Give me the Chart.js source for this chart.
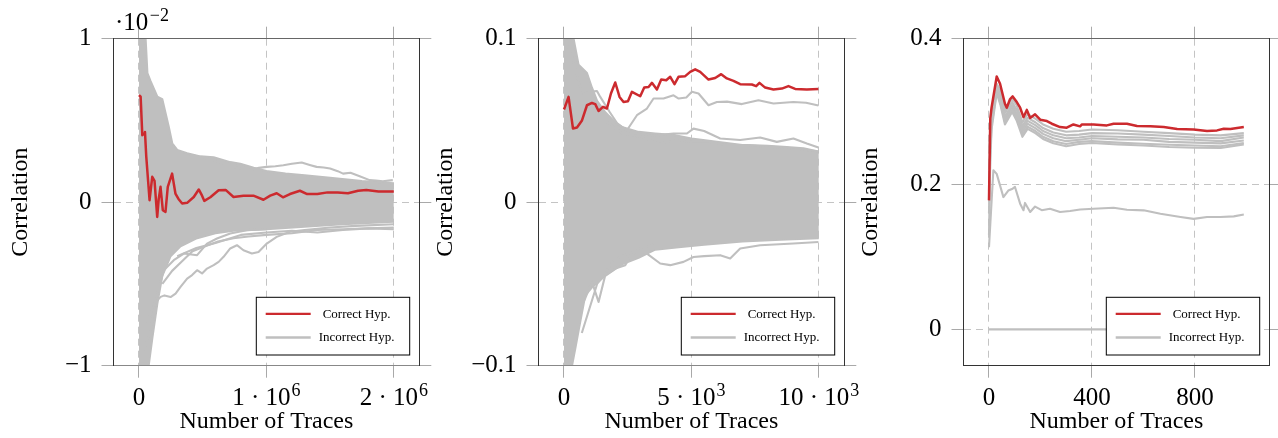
<!DOCTYPE html>
<html>
<head>
<meta charset="utf-8">
<script src="https://cdn.jsdelivr.net/npm/chart.js@4.4.1/dist/chart.umd.min.js"></script>
<style>
  body { margin: 0; background: #fff; }
  #wrap { position: relative; width: 1278px; height: 438px; overflow: hidden; background: #fff; }
  canvas { position: absolute; top: 0; }
</style>
</head>
<body>
<div id="wrap">
  <canvas id="c1" width="440" height="438" style="left:0px"></canvas>
  <canvas id="c2" width="440" height="438" style="left:425px"></canvas>
  <canvas id="c3" width="428" height="438" style="left:850px"></canvas>
</div>
<script>
// texts
const titleX = 'Number of Traces';
const titleY = 'Correlation';
const legendLabels = ['Correct Hyp.', 'Incorrect Hyp.'];

// panel 1 (values in units of 10^-2)
const p1XTicks = [0, 1000000, 2000000];
const p1XTickLabels = ['0', '1 · 10^6', '2 · 10^6'];
const p1YTicks = [-1, 0, 1];
const p1YTickLabels = ['−1', '0', '1'];
const p1Correct = [[0,0.655],[13000,0.645],[26000,0.41],[40000,0.42],[47000,0.43],[57000,0.28],[83000,0.012],[104000,0.155],[122000,0.13],[143000,-0.09],[155000,0.02],[169000,0.094],[187000,-0.049],[208000,-0.059],[226000,0.094],[260000,0.175],[286000,0.053],[310000,0.02],[339000,-0.008],[378000,-0.004],[430000,0.032],[469000,0.078],[495000,0.04],[513000,0.008],[560000,0.03],[625000,0.073],[680000,0.075],[742000,0.032],[820000,0.04],[898000,0.04],[977000,0.015],[1030000,0.04],[1081000,0.055],[1130000,0.03],[1185000,0.05],[1263000,0.07],[1320000,0.05],[1400000,0.05],[1480000,0.06],[1560000,0.06],[1640000,0.055],[1720000,0.07],[1784000,0.075],[1880000,0.065],[2000000,0.065]];
const p1BandTop = [[0,1],[52000,1],[66000,0.79],[91000,0.74],[144000,0.645],[183000,0.63],[234000,0.46],[261000,0.36],[300000,0.32],[378000,0.30],[482000,0.28],[586000,0.275],[716000,0.245],[795000,0.235],[900000,0.21],[1000000,0.19],[1150000,0.175],[1300000,0.165],[1500000,0.15],[1750000,0.13],[2000000,0.115]];
const p1BandBottom = [[0,-1],[76000,-1],[105000,-0.83],[144000,-0.62],[183000,-0.45],[248000,-0.33],[326000,-0.27],[456000,-0.22],[600000,-0.19],[742000,-0.175],[1000000,-0.165],[1300000,-0.15],[1600000,-0.135],[2000000,-0.12]];
const p1GreyA = [[400000,0.29],[550000,0.265],[700000,0.225],[800000,0.205],[873000,0.196],[940000,0.21],[1003000,0.216],[1070000,0.22],[1133000,0.226],[1200000,0.235],[1277000,0.243],[1340000,0.228],[1394000,0.216],[1450000,0.212],[1500000,0.206],[1560000,0.19],[1602000,0.175],[1660000,0.18],[1732000,0.159],[1810000,0.135],[1860000,0.132],[1914000,0.128],[1992000,0.135]];
const p1GreyB = [[60000,-0.75],[120000,-0.62],[170000,-0.579],[200000,-0.57],[248000,-0.58],[287000,-0.559],[326000,-0.518],[378000,-0.467],[417000,-0.446],[456000,-0.416],[495000,-0.436],[534000,-0.406],[586000,-0.385],[625000,-0.365],[664000,-0.334],[716000,-0.283],[769000,-0.263],[820000,-0.294],[886000,-0.314],[938000,-0.304],[1003000,-0.253],[1081000,-0.212],[1185000,-0.181],[1300000,-0.17],[1500000,-0.155],[1700000,-0.145],[2000000,-0.135]];
const p1GreyC = [[39000,-0.905],[91000,-0.783],[143000,-0.559],[195000,-0.416],[273000,-0.355],[352000,-0.314],[456000,-0.324],[534000,-0.253],[612000,-0.222],[716000,-0.191],[847000,-0.171],[1000000,-0.165]];
const p1GreyD = [[183000,-0.5],[260000,-0.42],[340000,-0.36],[420000,-0.30],[520000,-0.27],[620000,-0.24],[742000,-0.22],[860000,-0.21],[1000000,-0.2],[1200000,-0.19],[1400000,-0.17],[1600000,-0.165],[1800000,-0.16],[2000000,-0.155]];
const p1GreyE = [[300000,-0.33],[450000,-0.28],[600000,-0.25],[800000,-0.2],[1000000,-0.185],[1200000,-0.175],[1400000,-0.185],[1600000,-0.17],[1800000,-0.16],[2000000,-0.165]];

// panel 2
const p2XTicks = [0, 5000, 10000];
const p2XTickLabels = ['0', '5 · 10^3', '10 · 10^3'];
const p2YTicks = [-0.1, 0, 0.1];
const p2YTickLabels = ['−0.1', '0', '0.1'];
const p2Correct = [[0,0.0567],[180,0.0644],[353,0.0451],[510,0.0457],[706,0.050],[902,0.0593],[1098,0.0607],[1227,0.060],[1357,0.0558],[1529,0.0583],[1686,0.0573],[1843,0.0665],[2012,0.0732],[2180,0.0644],[2337,0.0613],[2510,0.0618],[2667,0.0675],[2992,0.0648],[3149,0.0701],[3318,0.0705],[3451,0.073],[3647,0.0689],[3816,0.075],[4012,0.0746],[4169,0.0767],[4337,0.0722],[4494,0.0767],[4757,0.0771],[4953,0.0797],[5149,0.0813],[5345,0.0797],[5671,0.075],[5933,0.076],[6169,0.0783],[6392,0.0757],[6651,0.0742],[6914,0.0722],[7373,0.072],[7541,0.071],[7671,0.073],[7894,0.0701],[8220,0.0689],[8549,0.0695],[8808,0.071],[9071,0.0693],[9529,0.0689],[9984,0.0693]];
const p2BandTop = [[0,0.1],[376,0.1],[573,0.084],[902,0.079],[1098,0.07],[1300,0.062],[1620,0.055],[2000,0.049],[2275,0.046],[2926,0.043],[3580,0.042],[4365,0.041],[5000,0.039],[6000,0.037],[7000,0.035],[8000,0.034],[9000,0.033],[10000,0.031]];
const p2BandBottom = [[0,-0.1],[314,-0.1],[443,-0.0895],[639,-0.073],[835,-0.057],[1100,-0.052],[1620,-0.045],[2275,-0.038],[2926,-0.034],[3580,-0.029],[4500,-0.0275],[5500,-0.026],[7000,-0.024],[8500,-0.023],[10000,-0.022]];
const p2GreyA = [[0,0.1],[300,0.09],[600,0.072],[769,0.0665],[965,0.0675],[1294,0.068],[1424,0.0644],[1800,0.055],[2100,0.048],[2471,0.044],[2863,0.0532],[3255,0.0573],[3514,0.0634],[3906,0.0634],[4298,0.0654],[4500,0.0634],[4800,0.064],[5020,0.0675],[5280,0.0665],[5671,0.0593],[6000,0.0613],[6400,0.0615],[6980,0.06],[7632,0.0624],[8220,0.0604],[9000,0.0613],[9500,0.0608],[9984,0.0591]];
const p2GreyB = [[1000,0.06],[1600,0.05],[2300,0.042],[3000,0.04],[3700,0.041],[4300,0.042],[4824,0.042],[5082,0.045],[5500,0.0435],[6130,0.039],[6914,0.038],[7698,0.0396],[8351,0.0369],[9004,0.039],[9529,0.0359],[9984,0.0334]];
const p2GreyC = [[2000,0.045],[3000,0.04],[3776,0.0359],[4400,0.038],[5000,0.037],[5700,0.037],[6392,0.0349],[7200,0.035],[8000,0.0345],[8745,0.0338],[9400,0.033],[9984,0.031]];
const p2GreyD = [[700,-0.08],[1000,-0.065],[1300,-0.05],[1553,-0.045],[1945,-0.0355],[2400,-0.032],[2800,-0.03],[3255,-0.0314],[3776,-0.0375],[4169,-0.0385],[4690,-0.0365],[5082,-0.0335],[5500,-0.033],[6130,-0.0324],[6522,-0.0344],[6914,-0.0283],[7698,-0.0263],[9004,-0.0253],[9984,-0.0243]];
const p2GreyE = [[800,-0.06],[1098,-0.0487],[1357,-0.061],[1620,-0.0446],[2012,-0.0406],[2404,-0.0385],[2533,-0.035],[2926,-0.0283],[3500,-0.026]];

// panel 3
const p3XTicks = [0, 400, 800];
const p3XTickLabels = ['0', '400', '800'];
const p3YTicks = [0, 0.2, 0.4];
const p3YTickLabels = ['0', '0.2', '0.4'];
const p3Correct = [[0,0.1775],[5,0.29],[10,0.305],[30,0.348],[43,0.338],[62,0.3105],[69,0.305],[82,0.317],[92,0.3206],[108,0.3128],[121,0.305],[134,0.292],[147,0.302],[160,0.291],[179,0.296],[199,0.2885],[225,0.2867],[244,0.283],[276,0.2784],[302,0.2775],[328,0.282],[354,0.2794],[361,0.282],[406,0.282],[458,0.2807],[484,0.283],[536,0.283],[575,0.2798],[627,0.2794],[679,0.2784],[731,0.2757],[795,0.2752],[847,0.2729],[886,0.2738],[912,0.2761],[938,0.2757],[990,0.2784]];
const p3GreyX = [0, 5, 10, 30, 45, 62, 90, 108, 130, 150, 180, 210, 250, 300, 350, 400, 500, 600, 700, 800, 900, 990];
const p3Grey1 = [0.28, 0.285, 0.30, 0.338, 0.328, 0.302, 0.318, 0.308, 0.285, 0.296, 0.290, 0.282, 0.276, 0.272, 0.273, 0.275, 0.274, 0.272, 0.270, 0.268, 0.267, 0.270];
const p3Grey2 = [0.25, 0.27, 0.295, 0.335, 0.322, 0.298, 0.313, 0.302, 0.280, 0.291, 0.285, 0.277, 0.271, 0.267, 0.268, 0.270, 0.2695, 0.268, 0.266, 0.264, 0.263, 0.267];
const p3Grey3 = [0.22, 0.26, 0.29, 0.332, 0.318, 0.293, 0.309, 0.297, 0.276, 0.287, 0.281, 0.273, 0.267, 0.263, 0.264, 0.266, 0.265, 0.264, 0.262, 0.261, 0.259, 0.264];
const p3Grey4 = [0.19, 0.25, 0.285, 0.330, 0.315, 0.289, 0.306, 0.294, 0.272, 0.283, 0.277, 0.269, 0.263, 0.259, 0.261, 0.263, 0.2615, 0.261, 0.258, 0.257, 0.256, 0.260];
const p3Grey5 = [0.16, 0.24, 0.28, 0.328, 0.311, 0.285, 0.302, 0.290, 0.268, 0.279, 0.273, 0.265, 0.259, 0.255, 0.258, 0.259, 0.257, 0.2555, 0.254, 0.253, 0.252, 0.2565];
const p3Grey6 = [0.13, 0.23, 0.275, 0.325, 0.308, 0.282, 0.299, 0.287, 0.265, 0.276, 0.270, 0.262, 0.256, 0.252, 0.255, 0.2565, 0.2545, 0.253, 0.251, 0.250, 0.2495, 0.2546];
const p3GreyLow = [[0,0.113],[17,0.219],[30,0.214],[56,0.182],[75,0.191],[92,0.1936],[101,0.196],[121,0.173],[134,0.164],[140,0.174],[160,0.1615],[179,0.169],[205,0.164],[237,0.166],[276,0.1615],[315,0.163],[354,0.165],[406,0.166],[484,0.1674],[536,0.1647],[601,0.1638],[666,0.159],[744,0.1546],[795,0.152],[847,0.1546],[899,0.1546],[951,0.1555],[990,0.158]];
const p3GreyZero = [[0,0],[990,0]];

// styling
const serif = '"Liberation Serif", "Times New Roman", serif';
const RED = '#cc2a2e';
const GREY = '#bfbfbf';
const AREA = { left: 113.5, right: 419.3, top: 38.7, bottom: 365.7 };
Chart.defaults.font.family = serif;

const pts = a => a.map(p => ({ x: p[0], y: p[1] }));
const zipX = (xs, ys) => xs.map((x, i) => [x, ys[i]]);

// legend drawn inside the plot, bottom right
const legendBox = {
  id: 'legendBox',
  afterDraw(chart) {
    const ctx = chart.ctx, a = chart.chartArea;
    const w = 153.4, h = 57.7;
    const l = a.right - 9.6 - w, t = a.bottom - 10.7 - h;
    ctx.save();
    ctx.fillStyle = '#fff';
    ctx.fillRect(l, t, w, h);
    ctx.strokeStyle = '#000';
    ctx.lineWidth = 1;
    ctx.strokeRect(l, t, w, h);
    [[legendLabels[0], RED, 16.6], [legendLabels[1], GREY, 40.2]].forEach(r => {
      ctx.strokeStyle = r[1];
      ctx.lineWidth = 2.4;
      ctx.beginPath();
      ctx.moveTo(l + 9.4, t + r[2]);
      ctx.lineTo(l + 54.4, t + r[2]);
      ctx.stroke();
      ctx.fillStyle = '#000';
      ctx.font = '13px ' + serif;
      ctx.textAlign = 'center';
      ctx.textBaseline = 'middle';
      ctx.fillText(r[0], l + 100.3, t + r[2] + 0.5);
    });
    ctx.restore();
  }
};

// the ·10^-2 multiplier of panel 1
const expLabel = {
  id: 'expLabel',
  afterDraw(chart) {
    const ctx = chart.ctx;
    ctx.save();
    ctx.fillStyle = '#000';
    ctx.textAlign = 'left';
    ctx.textBaseline = 'alphabetic';
    ctx.font = '25px ' + serif;
    ctx.fillText('·10', 115, 29.5);
    const w = ctx.measureText('·10').width;
    ctx.font = '18px ' + serif;
    ctx.fillText('−2', 115 + w + 1.5, 20.5);
    ctx.restore();
  }
};

function makePanel(id, p) {
  const canvas = document.getElementById(id);
  const W = canvas.width, H = canvas.height;
  const setTicks = vals => s => { s.ticks = vals.map(v => ({ value: v })); };
  const gridOpts = { color: '#c4c4c4', lineWidth: 1, tickLength: 12, tickColor: '#a9a9a9', tickWidth: 1, tickBorderDash: [] };

  // x tick labels with real superscripts ("a^b")
  const xTickText = {
    id: 'xTickText',
    afterDraw(chart) {
      const s = chart.scales.x, ctx = chart.ctx;
      const base = s.top + 38.8;
      ctx.save();
      ctx.fillStyle = '#000';
      ctx.textAlign = 'left';
      ctx.textBaseline = 'alphabetic';
      p.xTicks.forEach((v, i) => {
        const parts = p.xTickLabels[i].split('^');
        ctx.font = '25px ' + serif;
        const wb = ctx.measureText(parts[0]).width;
        let ws = 0;
        if (parts[1]) { ctx.font = '18px ' + serif; ws = ctx.measureText(parts[1]).width + 1; }
        const x0 = s.getPixelForValue(v) - (wb + ws) / 2;
        ctx.font = '25px ' + serif;
        ctx.fillText(parts[0], x0, base);
        if (parts[1]) {
          ctx.font = '18px ' + serif;
          ctx.fillText(parts[1], x0 + wb + 1, base - 9);
        }
      });
      ctx.restore();
    }
  };

  const datasets = [{ data: pts(p.correct), borderColor: RED, borderWidth: 2.5 }];
  p.greys.forEach(g => datasets.push({ data: pts(g), borderColor: GREY, borderWidth: 2.1 }));
  if (p.band) {
    datasets.push({ data: pts(p.band[0]), borderColor: GREY, borderWidth: 2.1, backgroundColor: GREY, fill: '+1' });
    datasets.push({ data: pts(p.band[1]), borderColor: GREY, borderWidth: 2.1, fill: false });
  }
  datasets.forEach(d => {
    d.xAxisID = 'x';
    d.yAxisID = 'y';
    d.pointRadius = 0;
    d.tension = 0;
    d.borderJoinStyle = 'round';
    if (d.fill === undefined) d.fill = false;
  });

  return new Chart(canvas, {
    type: 'line',
    data: { datasets: datasets },
    plugins: [xTickText].concat(p.plugins),
    options: {
      responsive: false,
      animation: false,
      events: [],
      layout: { padding: 0 },
      plugins: { legend: { display: false }, tooltip: { enabled: false } },
      scales: {
        x: {
          type: 'linear', position: 'bottom', min: p.xMin, max: p.xMax,
          afterBuildTicks: setTicks(p.xTicks),
          ticks: { display: false },
          grid: gridOpts,
          border: { display: true, color: p.bottomBorder, width: 1, dash: [7, 5], z: 1 },
          title: { display: true, text: titleX, color: '#000', font: { size: 24 }, padding: { top: 0, bottom: 1.6 } },
          afterFit: s => { s.height = H - AREA.bottom; s.paddingLeft = 0; s.paddingRight = 0; }
        },
        x2: {
          type: 'linear', position: 'top', min: p.xMin, max: p.xMax,
          afterBuildTicks: setTicks(p.xTicks),
          ticks: { display: false },
          grid: Object.assign({}, gridOpts, { drawOnChartArea: false }),
          border: { display: true, color: '#666', width: 1, z: 1 },
          afterFit: s => { s.height = AREA.top; s.paddingLeft = 0; s.paddingRight = 0; }
        },
        y: {
          type: 'linear', position: 'left', min: p.yMin, max: p.yMax,
          afterBuildTicks: setTicks(p.yTicks),
          ticks: { padding: 10, color: '#000', font: { size: 25 }, callback: (v, i) => p.yTickLabels[i] },
          grid: gridOpts,
          border: { display: true, color: '#333', width: 1, dash: [7, 5], z: 1 },
          title: { display: true, text: titleY, color: '#000', font: { size: 24 }, padding: { top: 6.8, bottom: 0 } },
          afterFit: s => { s.width = AREA.left; s.paddingTop = 0; s.paddingBottom = 0; }
        },
        y2: {
          type: 'linear', position: 'right', min: p.yMin, max: p.yMax,
          afterBuildTicks: setTicks(p.yTicks),
          ticks: { display: false },
          grid: Object.assign({}, gridOpts, { drawOnChartArea: false }),
          border: { display: true, color: '#333', width: 1, z: 1 },
          afterFit: s => { s.width = W - AREA.right; s.paddingTop = 0; s.paddingBottom = 0; }
        }
      }
    }
  });
}

makePanel('c1', {
  xMin: -200000, xMax: 2200000, xTicks: p1XTicks, xTickLabels: p1XTickLabels,
  yMin: -1, yMax: 1, yTicks: p1YTicks, yTickLabels: p1YTickLabels,
  correct: p1Correct,
  greys: [p1GreyA, p1GreyB, p1GreyC, p1GreyD, p1GreyE],
  band: [p1BandTop, p1BandBottom],
  bottomBorder: '#888',
  plugins: [legendBox, expLabel]
});

makePanel('c2', {
  xMin: -1000, xMax: 11000, xTicks: p2XTicks, xTickLabels: p2XTickLabels,
  yMin: -0.1, yMax: 0.1, yTicks: p2YTicks, yTickLabels: p2YTickLabels,
  correct: p2Correct,
  greys: [p2GreyA, p2GreyB, p2GreyC, p2GreyD, p2GreyE],
  band: [p2BandTop, p2BandBottom],
  bottomBorder: '#888',
  plugins: [legendBox]
});

makePanel('c3', {
  xMin: -99, xMax: 1089, xTicks: p3XTicks, xTickLabels: p3XTickLabels,
  yMin: -0.05, yMax: 0.4, yTicks: p3YTicks, yTickLabels: p3YTickLabels,
  correct: p3Correct,
  greys: [zipX(p3GreyX, p3Grey1), zipX(p3GreyX, p3Grey2), zipX(p3GreyX, p3Grey3),
          zipX(p3GreyX, p3Grey4), zipX(p3GreyX, p3Grey5), zipX(p3GreyX, p3Grey6),
          p3GreyLow, p3GreyZero],
  band: null,
  bottomBorder: '#333',
  plugins: [legendBox]
});
</script>
</body>
</html>
